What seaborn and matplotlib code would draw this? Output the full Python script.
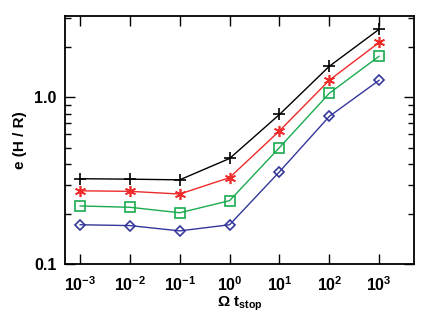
import numpy as np
import pandas as pd
import matplotlib
matplotlib.use("Agg")
import matplotlib.pyplot as plt
import matplotlib.ticker as mticker
import seaborn as sns

# data
omega_t = [1e-3, 1e-2, 1e-1, 1e0, 1e1, 1e2, 1e3]
e_black = [0.325, 0.323, 0.320, 0.43, 0.79, 1.54, 2.57]
e_red = [0.275, 0.273, 0.263, 0.33, 0.63, 1.27, 2.14]
e_green = [0.223, 0.219, 0.203, 0.24, 0.50, 1.06, 1.77]
e_blue = [0.172, 0.170, 0.158, 0.172, 0.358, 0.77, 1.27]
x_ticks = [1e-3, 1e-2, 1e-1, 1e0, 1e1, 1e2, 1e3]
x_ticklabels = [r"$10^{-3}$", r"$10^{-2}$", r"$10^{-1}$", r"$10^{0}$",
                r"$10^{1}$", r"$10^{2}$", r"$10^{3}$"]
y_ticks = [0.1, 1.0]
y_ticklabels = ["0.1", "1.0"]

sns.set_theme(style="ticks")
plt.rcParams["font.family"] = ["Liberation Sans", "DejaVu Sans"]
plt.rcParams["font.weight"] = "bold"
plt.rcParams["mathtext.fontset"] = "custom"
plt.rcParams["mathtext.rm"] = "Liberation Sans:bold"
plt.rcParams["mathtext.it"] = "Liberation Sans:bold"
plt.rcParams["mathtext.bf"] = "Liberation Sans:bold"
plt.rcParams["text.color"] = "black"
plt.rcParams["axes.labelcolor"] = "black"
plt.rcParams["axes.edgecolor"] = "black"
plt.rcParams["xtick.color"] = "black"
plt.rcParams["ytick.color"] = "black"

fig = plt.figure(figsize=(4.36, 3.15), dpi=100)
ax = fig.add_axes([0.149, 0.162, 0.801, 0.787])

series = [
    (e_black, "black", "+", 9, "black"),
    (e_red, "#ee2a2a", (6, 2, 0), 8, "red"),
    (e_green, "#1aab4f", "s", 7, "green"),
    (e_blue, "#34379a", "D", 5.5, "blue"),
]
for vals, col, mk, ms, name in series:
    df = pd.DataFrame({"x": omega_t, "y": vals})
    sns.lineplot(data=df, x="x", y="y", ax=ax, color=col, marker=mk,
                 markersize=ms, markerfacecolor="none", markeredgecolor=col,
                 markeredgewidth=1.2, linewidth=1.0, legend=False)

ax.set_xscale("log")
ax.set_yscale("log")
ax.set_xlim(10 ** -3.3, 10 ** 3.7)
ax.set_ylim(0.1, 3.08)

ax.xaxis.set_major_locator(mticker.FixedLocator(x_ticks))
ax.xaxis.set_minor_locator(mticker.NullLocator())
ax.set_xticklabels(x_ticklabels)
ax.yaxis.set_major_locator(mticker.FixedLocator(y_ticks))
ax.yaxis.set_minor_locator(mticker.LogLocator(subs=np.arange(2, 10)))
ax.yaxis.set_minor_formatter(mticker.NullFormatter())
ax.set_yticklabels(y_ticklabels)

ax.tick_params(which="both", direction="in", top=True, right=True,
               labelsize=11.5, width=1.0, colors="black")
ax.tick_params(axis="x", pad=8)
ax.tick_params(axis="y", pad=6)
ax.tick_params(which="major", length=7)
ax.tick_params(which="minor", length=4)
for s in ax.spines.values():
    s.set_linewidth(1.3)
    s.set_color("black")

ax.set_xlabel(r"$\Omega$ t$_{\rm stop}$", fontsize=11, fontweight="bold",
              labelpad=1)
ax.set_ylabel("e (H / R)", fontsize=11, fontweight="bold", labelpad=5)

fig.savefig("out.png", dpi=100)
